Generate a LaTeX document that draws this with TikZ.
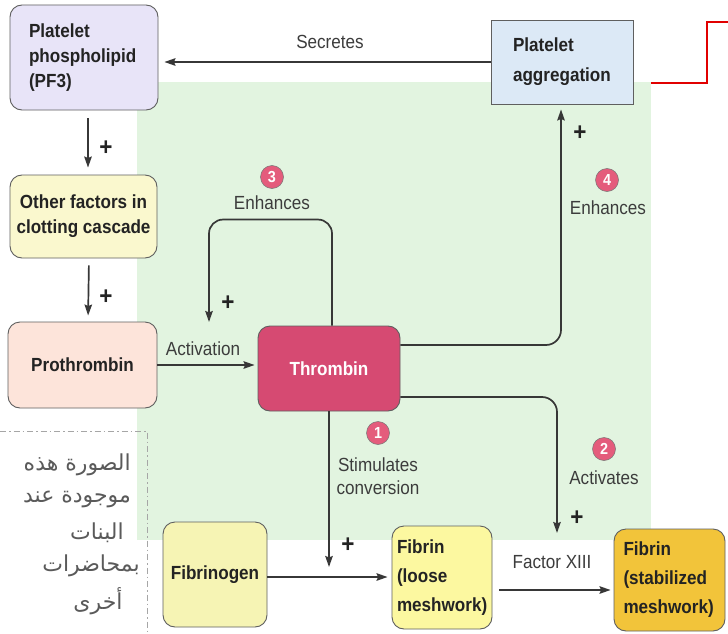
\documentclass[tikz,border=0pt]{standalone}
\usepackage{fontspec}
\setmainfont{Liberation Sans}[FakeStretch=0.9]
\newfontfamily\arabicfont[Script=Arabic]{DejaVu Sans}
\TeXXeTstate=1
\usetikzlibrary{arrows.meta,calc}
\definecolor{bggreen}{RGB}{226,244,224}
\definecolor{pfcol}{RGB}{232,228,248}
\definecolor{othcol}{RGB}{250,248,206}
\definecolor{procol}{RGB}{253,228,218}
\definecolor{thrcol}{RGB}{214,74,114}
\definecolor{aggcol}{RGB}{220,233,246}
\definecolor{fgncol}{RGB}{246,244,180}
\definecolor{flcol}{RGB}{252,248,160}
\definecolor{fscol}{RGB}{242,196,58}
\definecolor{numcol}{RGB}{228,92,124}
\definecolor{edgecol}{RGB}{55,55,55}
\definecolor{txtcol}{RGB}{35,35,35}
\definecolor{lblcol}{RGB}{60,60,60}
\definecolor{arabcol}{RGB}{90,90,90}
\definecolor{redline}{RGB}{225,0,0}
\tikzset{
  box/.style={draw=edgecol!80, line width=0.9pt, rounded corners=12pt, inner sep=0pt,
    text=txtcol, font=\bfseries\fontsize{19}{25}\selectfont},
  lbl/.style={text=lblcol, font=\fontsize{19}{23}\selectfont, inner sep=0pt},
  plus/.style={text=txtcol, font=\bfseries\fontsize{25}{25}\selectfont, inner sep=0pt},
  numc/.style={circle, fill=numcol, draw=edgecol!70, line width=0.5pt, minimum size=23pt,
    inner sep=0pt, text=white, font=\bfseries\fontsize{16}{16}\selectfont},
  arr/.style={draw=edgecol, line width=1.7pt, -{Stealth[length=11pt,width=7.5pt,inset=1.5pt]}},
  arab/.style={text=arabcol, font=\arabicfont\fontsize{22}{22}\selectfont, inner sep=0pt}
}
\begin{document}
\begin{tikzpicture}[x=1pt,y=-1pt]
\useasboundingbox (0,0) rectangle (728,634);
\clip (0,0) rectangle (728,634);
\fill[white] (0,0) rectangle (728,634);
% green background
\fill[bggreen] (137,82) rectangle (651,540);

% boxes
\node[box, fill=pfcol, minimum width=148pt, minimum height=105pt, text width=110pt, align=left]
  (pf3) at (84,57.5) {Platelet\\phospholipid\\(PF3)};
\node[box, fill=othcol, minimum width=147pt, minimum height=83pt, align=center]
  (oth) at (83.5,216.5) {Other factors in\\clotting cascade};
\node[box, fill=procol, minimum width=149pt, minimum height=86pt]
  (pro) at (82.5,365) {Prothrombin};
\node[box, fill=thrcol, text=white, minimum width=142pt, minimum height=85pt]
  (thr) at (329,368.5) {Thrombin};
\node[box, rounded corners=0pt, fill=aggcol, minimum width=142pt, minimum height=84pt,
  text width=98pt, align=left, font=\bfseries\fontsize{19}{30}\selectfont]
  (agg) at (562,62) {Platelet\\aggregation};
\node[box, fill=fgncol, minimum width=104pt, minimum height=105pt]
  (fgn) at (215,574.5) {Fibrinogen};
\node[box, fill=flcol, minimum width=100pt, minimum height=103pt, text width=90pt, align=left,
  font=\bfseries\fontsize{19}{29}\selectfont]
  (fl) at (442,577.5) {Fibrin\\(loose\\meshwork)};
\node[box, fill=fscol, minimum width=111pt, minimum height=102pt, text width=92pt, align=left,
  font=\bfseries\fontsize{19}{29}\selectfont]
  (fs) at (669.5,580) {Fibrin\\(stabilized\\meshwork)};

% free ends and helper points
\coordinate (e3) at (209,322);
\coordinate (e1) at (329,567);
\coordinate (e2) at (557,533);
\coordinate (fa) at ([yshift=-2.5pt]fgn.east);
\coordinate (fb) at ([yshift=-12.5pt]fl.east);

% connectors
\draw[arr, shorten >=6pt] (agg.west) -- (agg.west -| pf3.east);
\node[lbl] (secl) at (330,42) {Secretes};

\draw[arr, shorten <=8pt, shorten >=7pt] ([xshift=4pt]pf3.south) -- ([xshift=4.5pt]oth.north);
\node[plus] (p1) at (106,148) {+};
\draw[arr, shorten <=7pt, shorten >=6pt] ([xshift=5.5pt]oth.south) -- ([xshift=5.5pt]pro.north);
\node[plus] (p2) at (106,297) {+};

\draw[arr, shorten >=3pt] (pro.east) -- (pro.east -| thr.west);
\node[lbl] (actl) at (203,349) {Activation};

\draw[arr, rounded corners=14pt] ([xshift=3pt]thr.north) -- ++(0,-106) -| (e3);
\node[plus] (p3) at (228,303) {+};
\node[numc] (n3) at (272,177) {3};
\node[lbl] (enh3) at (272,203) {Enhances};

\draw[arr, rounded corners=15pt, shorten >=5pt] ([yshift=23.5pt]thr.east) -| ([xshift=-1pt]agg.south);
\node[plus] (p4) at (580,133) {+};
\node[numc] (n4) at (607,180) {4};
\node[lbl] (enh4) at (608,208) {Enhances};

\draw[arr, rounded corners=15pt] ([yshift=-28.5pt]thr.east) -| (e2);
\node[plus] (p5) at (577,518) {+};
\node[numc] (n2) at (604,449) {2};
\node[lbl] (actsl) at (604,478) {Activates};

\draw[arr] (thr.south) -- (e1);
\node[numc] (n1) at (378,433) {1};
\node[lbl, align=center, font=\fontsize{19}{23}\selectfont] (stim) at (378,476) {Stimulates\\conversion};
\node[plus] (p6) at (348,545) {+};

\draw[arr, shorten >=4pt] (fa) -- (fa -| fl.west);
\draw[arr, shorten <=7pt, shorten >=3pt] (fb) -- (fb -| fs.west);
\node[lbl] (f13) at (552,562) {Factor XIII};

% red line
\draw[redline, line width=2pt] (651,83) -- (707,83) -- (707,22) -- (730,22);

% dash-dot box
\draw[gray!70, line width=0.8pt, dash pattern=on 6pt off 3pt on 1.5pt off 3pt] (0,431) -- (147,431) -- (147,640);

% arabic note
\node[arab, anchor=east] (a1) at (131,465) {\beginR الصورة هذه\endR};
\node[arab, anchor=east] (a2) at (131,499) {\beginR موجودة عند\endR};
\node[arab] (a3) at (97,533) {\beginR البنات\endR};
\node[arab] (a4) at (91,566) {\beginR بمحاضرات\endR};
\node[arab] (a5) at (98,601) {\beginR أخرى\endR};
\end{tikzpicture}
\end{document}
